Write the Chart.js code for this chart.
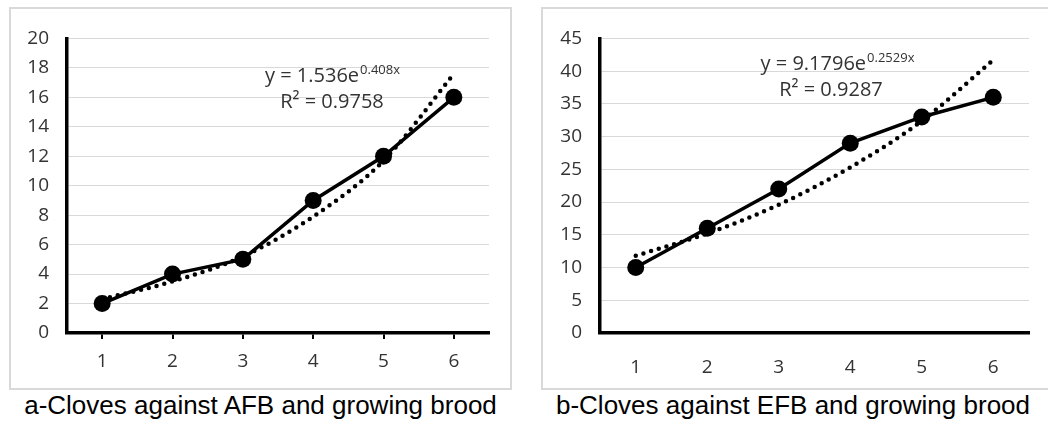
<!DOCTYPE html>
<html>
<head>
<meta charset="utf-8">
<script src="https://cdn.jsdelivr.net/npm/chart.js@4/dist/chart.umd.min.js"></script>
<style>
  body { margin: 0; background: #fff; width: 1048px; height: 423px; overflow: hidden; position: relative; }
  .panel { position: absolute; top: 7px; height: 379px; border: 2px solid #d9d9d9; }
  .panel canvas { position: absolute; left: 0; top: 0; }
  .caption { position: absolute; top: 390px; font-family: "Liberation Sans", Arial, sans-serif; font-size: 26px; color: #000; text-align: center; white-space: nowrap; }
</style>
</head>
<body>
<div class="panel" id="panelA" style="left:9px; width:499px;"><canvas id="chartA" width="499" height="379"></canvas></div>
<div class="panel" id="panelB" style="left:541px; width:510px; border-right:none;"><canvas id="chartB" width="505" height="379"></canvas></div>
<div class="caption" style="left:9px; width:503px;">a-Cloves against AFB and growing brood</div>
<div class="caption" style="left:541px; width:504px;">b-Cloves against EFB and growing brood</div>
<script>
// data
const days = ["1", "2", "3", "4", "5", "6"]
const afbValues = [2, 4, 5, 9, 12, 16]
const afbTrend = [2.3, 3.5, 5.2, 7.9, 11.7, 17.6]
const afbTicks = [0, 2, 4, 6, 8, 10, 12, 14, 16, 18, 20]
const afbEquation = ["y = 1.536e", "0.408x", "R² = 0.9758"]

const efbValues = [10, 16, 22, 29, 33, 36]
const efbTrend = [11.8, 15.2, 19.6, 25.3, 32.4, 41.7]
const efbTicks = [0, 5, 10, 15, 20, 25, 30, 35, 40, 45]
const efbEquation = ["y = 9.1796e", "0.2529x", "R² = 0.9287"]

const tickFont = { family: "'Open Sans'", size: 19 }
const labelColor = "#333333"

// draws the trendline equation, centred on cx, first baseline at y
const equationPlugin = {
    id: "equation",
    afterDatasetsDraw(chart, args, opts) {
        const ctx = chart.ctx
        const [main, sup, r2] = opts.lines
        ctx.save()
        ctx.fillStyle = labelColor
        ctx.textBaseline = "alphabetic"
        ctx.font = "20px 'Open Sans'"
        const wMain = ctx.measureText(main).width
        ctx.font = "13px 'Open Sans'"
        const wSup = ctx.measureText(sup).width
        let x0 = opts.cx - (wMain + wSup) / 2
        ctx.font = "20px 'Open Sans'"
        ctx.textAlign = "left"
        ctx.fillText(main, x0, opts.y)
        ctx.font = "13px 'Open Sans'"
        ctx.fillText(sup, x0 + wMain + 1, opts.y - 8)
        ctx.font = "20px 'Open Sans'"
        ctx.textAlign = "center"
        ctx.fillText(r2, opts.cx + opts.r2shift, opts.y + 26)
        ctx.restore()
    }
}

function makeChart(id, values, trend, ticks, equation, cfg) {
    const maxY = ticks[ticks.length - 1]
    const step = ticks[1] - ticks[0]
    return new Chart(document.getElementById(id), {
        type: "line",
        data: {
            labels: days,
            datasets: [
                {
                    label: "observed",
                    data: values,
                    borderColor: "#000",
                    backgroundColor: "#000",
                    borderWidth: 3.5,
                    pointRadius: 8.5,
                    pointBackgroundColor: "#000",
                    pointBorderWidth: 0,
                    tension: 0,
                    order: 2,
                },
                {
                    label: "trend",
                    data: trend,
                    borderColor: "#000",
                    borderWidth: 4.5,
                    borderDash: [0, 8],
                    borderCapStyle: "round",
                    pointRadius: 0,
                    cubicInterpolationMode: "monotone",
                    order: 1,
                }
            ]
        },
        options: {
            responsive: false,
            animation: false,
            events: [],
            layout: { padding: { left: 0, top: 27, right: cfg.right, bottom: 0 } },
            plugins: {
                legend: { display: false },
                tooltip: { enabled: false },
                equation: { lines: equation, cx: cfg.cx, y: cfg.ey, r2shift: cfg.r2shift }
            },
            scales: {
                x: {
                    offset: true,
                    afterFit: (s) => { s.height = 55 },
                    grid: {
                        display: cfg.xTicks,
                        offset: false,
                        drawOnChartArea: false,
                        drawTicks: true,
                        tickLength: 6,
                        color: "#000",
                        lineWidth: 2,
                    },
                    border: { display: true, color: "#000", width: 3.5 },
                    ticks: { color: labelColor, font: tickFont, padding: cfg.xTicks ? 11 : 17, maxRotation: 0 }
                },
                y: {
                    min: 0,
                    max: maxY,
                    afterFit: (s) => { s.width = cfg.left },
                    afterBuildTicks: (s) => { s.ticks = ticks.map(v => ({ value: v })) },
                    grid: { color: "#d9d9d9", lineWidth: 1, drawTicks: false },
                    border: { display: true, color: "#000", width: 3.5 },
                    ticks: { color: labelColor, font: tickFont, padding: 18, stepSize: step }
                }
            }
        },
        plugins: [equationPlugin]
    })
}

makeChart("chartA", afbValues, afbTrend, afbTicks, afbEquation,
    { left: 56, right: 21, cx: 321, ey: 73, r2shift: 0, xTicks: true })
makeChart("chartB", efbValues, efbTrend, efbTicks, efbEquation,
    { left: 57, right: 19, cx: 294, ey: 61, r2shift: -6, xTicks: false })
</script>
</body>
</html>
